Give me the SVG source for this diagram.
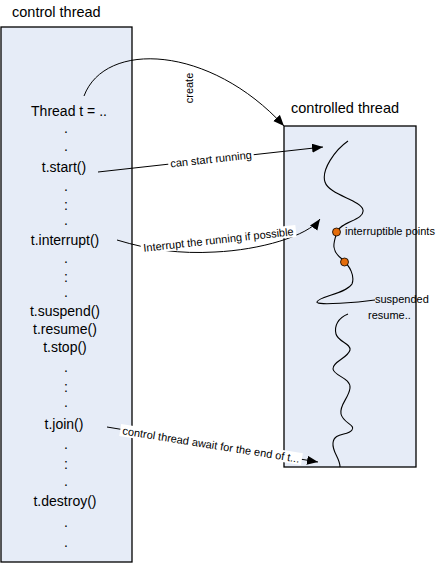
<svg xmlns="http://www.w3.org/2000/svg" width="440" height="565" viewBox="0 0 440 565">
<defs>
<style>
.box{fill:#e6ecf7;stroke:none}
.border{fill:none;stroke:#000;stroke-width:1.3}
.title{font-family:"Liberation Sans",Arial,sans-serif;font-size:14.5px;fill:#000}
.code{font-family:"Liberation Sans",Arial,sans-serif;font-size:14px;fill:#000;text-anchor:middle}
.small{font-family:"Liberation Sans",Arial,sans-serif;font-size:11px;fill:#000}
.lbl{font-family:"Liberation Sans",Arial,sans-serif;font-size:11px;fill:#000;text-anchor:middle}
.conn{fill:none;stroke:#000;stroke-width:1}
.wave{fill:none;stroke:#000;stroke-width:1.1}
.dot{fill:#e46c0a;stroke:#000;stroke-width:0.8}
.bg{fill:#fff}
</style>
<marker id="ah" markerUnits="userSpaceOnUse" markerWidth="12" markerHeight="10" refX="11" refY="4.5" orient="auto">
<path d="M0,0 L11,4.5 L0,9 z" fill="#000"/>
</marker>
</defs>
<rect width="440" height="565" fill="#fff"/>

<g id="control-thread">
<text class="title" x="12" y="17">control thread</text>
<rect class="box" x="1" y="27" width="131" height="535"/>
<rect class="border" x="1" y="27" width="131" height="535"/>
<text class="code" x="69" y="116">Thread t = ..</text>
<text class="code" x="66" y="133">.</text>
<text class="code" x="66" y="151">.</text>
<text class="code" x="64" y="172">t.start()</text>
<text class="code" x="66" y="191">.</text>
<text class="code" x="66" y="210">:</text>
<text class="code" x="66" y="225">.</text>
<text class="code" x="65" y="245">t.interrupt()</text>
<text class="code" x="66" y="263">.</text>
<text class="code" x="66" y="282">:</text>
<text class="code" x="66" y="297">.</text>
<text class="code" x="65" y="316">t.suspend()</text>
<text class="code" x="65" y="334">t.resume()</text>
<text class="code" x="65" y="352">t.stop()</text>
<text class="code" x="66" y="372">.</text>
<text class="code" x="66" y="392">:</text>
<text class="code" x="66" y="407">.</text>
<text class="code" x="64" y="429">t.join()</text>
<text class="code" x="66" y="449">.</text>
<text class="code" x="66" y="469">:</text>
<text class="code" x="66" y="486">.</text>
<text class="code" x="65" y="506">t.destroy()</text>
<text class="code" x="66" y="527">.</text>
<text class="code" x="66" y="547">.</text>
</g>

<g id="controlled-thread">
<text class="title" x="291" y="113">controlled thread</text>
<rect class="box" x="284" y="126" width="132" height="341"/>
<path class="wave" d="M348,141 C335,150 321,170 325,182 C329,195 361,200 363,210 C365,220 340,222 337,232 C334,242 330,250 342,259 C350,266 355,276 352,284 C346,294 318,296 317,302 C316,306 360,302 375,300"/>
<path class="wave" d="M348,314 C338,318 334,326 336,334 C338,342 351,343 350,350 C348,358 332,362 333,369 C334,376 351,378 350,388 C349,398 339,405 341,414 C343,423 356,425 352,430 C348,436 334,432 333,443 C332,452 340,458 340,467"/>
<circle class="dot" cx="336.5" cy="232" r="4"/>
<circle class="dot" cx="344.5" cy="262" r="4"/>
<text class="small" x="345" y="235">interruptible points</text>
<text class="small" x="375" y="303">suspended</text>
<text class="small" x="368" y="319">resume..</text>
<rect class="border" x="284" y="126" width="132" height="341"/>
</g>

<g id="connectors">
<path class="conn" d="M84,96 C105,40 210,45 284,126" marker-end="url(#ah)"/>
<text class="lbl" transform="translate(189,88) rotate(-90)" y="3.5" font-size="10">create</text>

<path class="conn" d="M98,172 L323,147" marker-end="url(#ah)"/>
<g transform="translate(211,159.5) rotate(-6.3)">
<rect class="bg" x="-43" y="-6.5" width="86" height="12"/>
<text class="lbl" y="3.5">can start running</text>
</g>

<path class="conn" d="M117,240 C150,250 180,254 215,252 C260,250 308,236 320,219" marker-end="url(#ah)"/>
<g transform="translate(218.5,240) rotate(-6.3)">
<rect class="bg" x="-78" y="-6.5" width="156" height="12"/>
<text class="lbl" y="3.5">Interrupt the running if possible</text>
</g>

<path class="conn" d="M107,427 L318,462" marker-end="url(#ah)"/>
<g transform="translate(211,445) rotate(9.1)">
<rect class="bg" x="-92" y="-6.5" width="184" height="12"/>
<text class="lbl" y="3.5">control thread await for the end of t...</text>
</g>
</g>
</svg>
